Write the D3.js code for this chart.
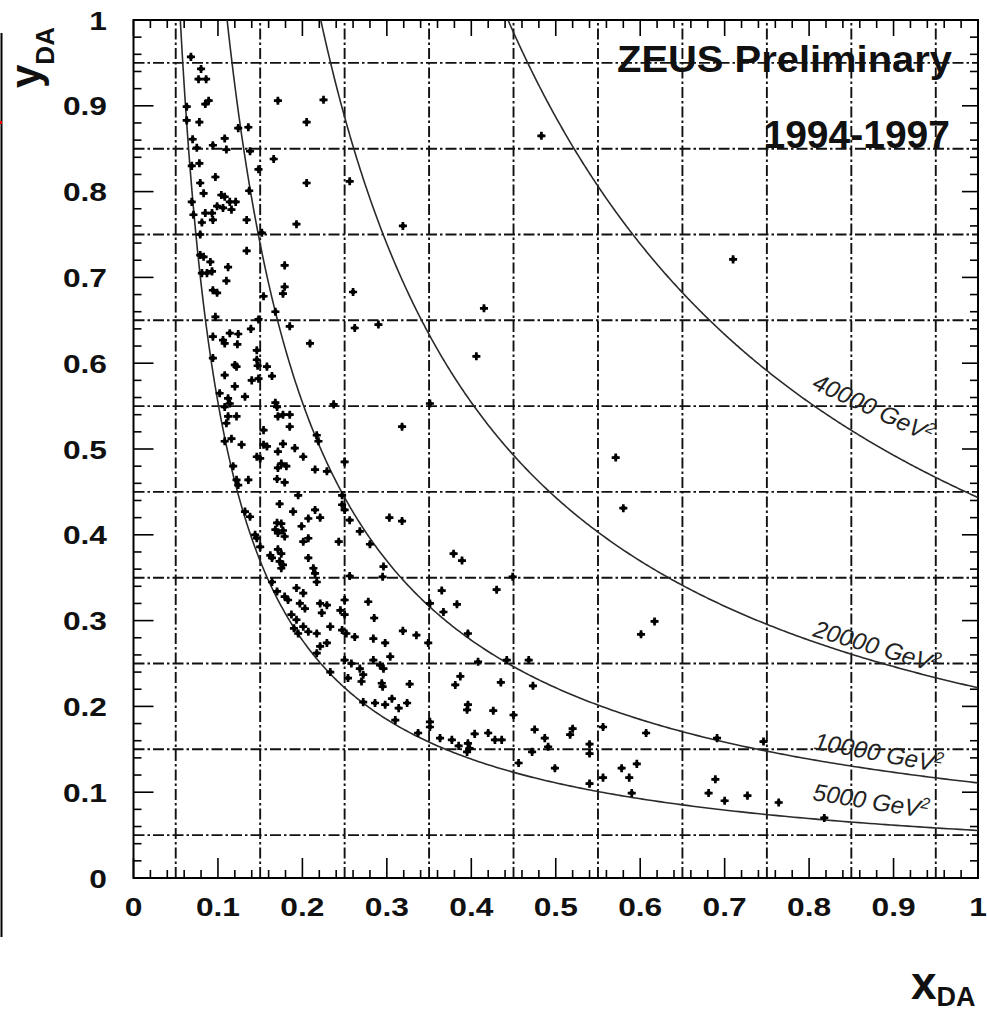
<!DOCTYPE html>
<html><head><meta charset="utf-8">
<script src="https://cdn.jsdelivr.net/npm/d3@7"></script>
<style>html,body{margin:0;padding:0;background:#fff;} svg{display:block;}</style>
</head><body>
<script>
// ---- data (x_DA, y_DA of events) ----
const xDA = [
0.068,0.080,0.077,0.086,0.089,0.085,0.171,0.225,0.063,0.063,
0.078,0.205,0.124,0.136,0.070,0.108,0.094,0.075,0.110,0.138,
0.166,0.069,0.078,0.148,0.097,0.079,0.205,0.256,0.083,0.104,
0.108,0.114,0.121,0.137,0.069,0.099,0.106,0.116,0.071,0.085,
0.093,0.094,0.081,0.134,0.193,0.079,0.152,0.483,0.319,0.134,
0.079,0.083,0.091,0.112,0.179,0.081,0.087,0.093,0.110,0.179,
0.177,0.094,0.099,0.260,0.154,0.168,0.097,0.148,0.185,0.262,
0.139,0.114,0.124,0.094,0.106,0.108,0.123,0.209,0.146,0.146,
0.147,0.094,0.120,0.122,0.158,0.108,0.164,0.140,0.148,0.120,
0.102,0.132,0.112,0.114,0.168,0.170,0.237,0.108,0.177,0.185,
0.112,0.122,0.171,0.110,0.185,0.154,0.217,0.116,0.415,0.290,
0.406,0.318,0.108,0.128,0.154,0.158,0.177,0.191,0.171,0.146,
0.150,0.201,0.219,0.250,0.118,0.175,0.181,0.171,0.215,0.229,
0.136,0.122,0.124,0.170,0.179,0.195,0.247,0.173,0.247,0.250,
0.189,0.215,0.132,0.207,0.221,0.138,0.256,0.170,0.175,0.199,
0.168,0.177,0.171,0.144,0.146,0.207,0.201,0.179,0.243,0.150,
0.171,0.175,0.162,0.164,0.207,0.173,0.177,0.175,0.213,0.215,
0.256,0.217,0.164,0.170,0.193,0.201,0.179,0.183,0.221,0.229,
0.197,0.203,0.250,0.245,0.223,0.187,0.193,0.201,0.207,0.217,
0.233,0.247,0.252,0.262,0.195,0.190,0.250,0.303,0.318,0.268,
0.280,0.379,0.389,0.296,0.295,0.430,0.365,0.278,0.351,0.383,
0.367,0.285,0.319,0.335,0.396,0.284,0.217,0.229,0.233,0.254,
0.250,0.258,0.221,0.298,0.349,0.284,0.292,0.296,0.304,0.268,
0.272,0.270,0.294,0.295,0.327,0.387,0.381,0.435,0.473,0.408,
0.442,0.468,0.272,0.286,0.306,0.324,0.298,0.314,0.396,
0.395,0.426,0.450,0.310,0.351,0.351,0.475,0.337,0.404,0.420,
0.363,0.377,0.385,0.396,0.398,0.395,0.428,0.436,0.487,0.472,
0.491,0.456,0.499,0.571,0.580,0.617,0.601,0.520,0.517,0.556,
0.607,0.540,0.540,0.691,0.746,0.578,0.596,0.587,0.556,0.540,
0.590,0.689,0.681,0.700,0.727,0.764,0.818,0.710,0.351,0.449
];
const yDA = [
0.957,0.943,0.931,0.931,0.906,0.902,0.906,0.907,0.899,0.883,
0.881,0.881,0.874,0.875,0.861,0.862,0.854,0.851,0.849,0.847,
0.838,0.830,0.833,0.826,0.817,0.810,0.810,0.812,0.798,0.796,
0.794,0.788,0.788,0.801,0.788,0.783,0.781,0.779,0.773,0.775,
0.775,0.767,0.764,0.767,0.762,0.750,0.752,0.865,0.760,0.731,
0.726,0.724,0.718,0.712,0.714,0.705,0.705,0.707,0.696,0.689,
0.681,0.685,0.682,0.683,0.678,0.660,0.654,0.651,0.643,0.641,
0.640,0.635,0.634,0.631,0.627,0.623,0.622,0.623,0.615,0.604,
0.597,0.606,0.598,0.596,0.596,0.586,0.585,0.580,0.582,0.573,
0.565,0.561,0.559,0.553,0.554,0.549,0.552,0.549,0.540,0.540,
0.538,0.538,0.538,0.530,0.526,0.522,0.516,0.512,0.664,0.645,
0.608,0.526,0.509,0.505,0.505,0.503,0.506,0.501,0.497,0.491,
0.489,0.491,0.509,0.485,0.480,0.483,0.480,0.478,0.476,0.474,
0.464,0.464,0.458,0.465,0.461,0.446,0.446,0.436,0.435,0.429,
0.427,0.429,0.427,0.419,0.420,0.421,0.417,0.414,0.413,0.410,
0.406,0.405,0.402,0.400,0.396,0.396,0.392,0.398,0.392,0.386,
0.383,0.378,0.376,0.373,0.373,0.369,0.365,0.361,0.361,0.355,
0.352,0.345,0.345,0.334,0.338,0.332,0.328,0.324,0.320,0.318,
0.320,0.314,0.324,0.312,0.309,0.307,0.301,0.293,0.287,0.285,
0.293,0.289,0.285,0.281,0.285,0.291,0.307,0.420,0.416,0.404,
0.389,0.378,0.370,0.363,0.351,0.336,0.335,0.322,0.320,0.319,
0.310,0.303,0.288,0.283,0.285,0.279,0.262,0.274,0.240,0.233,
0.254,0.250,0.270,0.274,0.274,0.254,0.248,0.244,0.258,0.244,
0.237,0.229,0.227,0.223,0.226,0.235,0.225,0.228,0.224,0.252,
0.254,0.254,0.205,0.204,0.209,0.204,0.202,0.198,0.202,
0.196,0.195,0.190,0.184,0.182,0.176,0.173,0.169,0.168,0.169,
0.163,0.161,0.154,0.157,0.151,0.147,0.161,0.161,0.163,0.147,
0.153,0.134,0.128,0.490,0.431,0.299,0.284,0.174,0.167,0.176,
0.169,0.156,0.145,0.163,0.159,0.128,0.133,0.117,0.117,0.110,
0.099,0.115,0.099,0.090,0.096,0.088,0.070,0.721,0.553,0.351
];
// lines of constant Q^2 (y = Q^2 / (s x)), HERA 27.5 GeV e x 820 GeV p
const q2Values = [5000, 10000, 20000, 40000];
const q2Labels = ["5000", "10000", "20000", "40000"];
const sCM = 4 * 27.5 * 820;
const tickValues = [0,0.1,0.2,0.3,0.4,0.5,0.6,0.7,0.8,0.9,1];
const tickLabels = ["0","0.1","0.2","0.3","0.4","0.5","0.6","0.7","0.8","0.9","1"];
const gridValues = [0.05,0.15,0.25,0.35,0.45,0.55,0.65,0.75,0.85,0.95];

// ---- layout ----
const W = 987, H = 1012;
const L = 133.5, R = 978, T = 20, B = 878;
const FONT = "'Liberation Sans', Arial, Helvetica, sans-serif";

const svg = d3.select("body").append("svg").attr("width", W).attr("height", H)
  .style("background", "#fff");

const x = d3.scaleLinear().domain([0, 1]).range([L, R]);
const y = d3.scaleLinear().domain([0, 1]).range([B, T]);

svg.append("defs").append("clipPath").attr("id", "plotclip")
  .append("rect").attr("x", L).attr("y", T).attr("width", R - L).attr("height", B - T);

// left edge artifact line
svg.append("line").attr("x1", 1.5).attr("x2", 1.5).attr("y1", 33).attr("y2", 937)
  .attr("stroke", "#000").attr("stroke-width", 2);
svg.append("rect").attr("x", 0).attr("y", 121).attr("width", 2).attr("height", 3).attr("fill", "#e00");

// grid (dash-dot)
const grid = svg.append("g").attr("stroke", "#111").attr("stroke-width", 1.9)
  .attr("stroke-dasharray", "11,3,2.5,3");
grid.selectAll("line.v").data(gridValues).join("line").attr("class", "v")
  .attr("x1", d => x(d)).attr("x2", d => x(d)).attr("y1", B).attr("y2", T);
grid.selectAll("line.h").data(gridValues).join("line").attr("class", "h")
  .attr("y1", d => y(d)).attr("y2", d => y(d)).attr("x1", L).attr("x2", R);

// axes with inward ticks
const minorVals = d3.range(0, 51).map(i => i / 50);
const isMajor = v => Math.abs(v * 10 - Math.round(v * 10)) < 1e-6;
const axG = svg.append("g").attr("stroke", "#000").attr("stroke-width", 1.6);
const tl = v => isMajor(v) ? 20 : 8;
const tlr = v => isMajor(v) ? 16 : 8;
axG.selectAll("line.tb").data(minorVals).join("line").attr("class", "tb")
  .attr("x1", d => x(d)).attr("x2", d => x(d)).attr("y1", B).attr("y2", d => B - tl(d));
axG.selectAll("line.tt").data(minorVals).join("line").attr("class", "tt")
  .attr("x1", d => x(d)).attr("x2", d => x(d)).attr("y1", T).attr("y2", d => T + tlr(d));
axG.selectAll("line.tl").data(minorVals).join("line").attr("class", "tl")
  .attr("y1", d => y(d)).attr("y2", d => y(d)).attr("x1", L).attr("x2", d => L + tl(d));
axG.selectAll("line.tr").data(minorVals).join("line").attr("class", "tr")
  .attr("y1", d => y(d)).attr("y2", d => y(d)).attr("x1", R).attr("x2", d => R - tlr(d));
svg.append("rect").attr("x", L).attr("y", T).attr("width", R - L).attr("height", B - T)
  .attr("fill", "none").attr("stroke", "#000").attr("stroke-width", 2);

// Q^2 curves
const curveG = svg.append("g").attr("clip-path", "url(#plotclip)");
const lineGen = d3.line().x(d => x(d[0])).y(d => y(d[1]));
q2Values.forEach(q => {
  const x0 = q / sCM;
  const pts = d3.range(0, 401).map(i => x0 * Math.pow(1 / x0, i / 400)).map(xv => [xv, q / (sCM * xv)]);
  curveG.append("path").attr("d", lineGen(pts)).attr("fill", "none")
    .attr("stroke", "#2a2a2a").attr("stroke-width", 1.6);
});

// curve labels
const labelPos = [
  {px: 812, py: 800, ang: 9},
  {px: 813, py: 749, ang: 10.5},
  {px: 812, py: 636, ang: 16.5},
  {px: 811, py: 388, ang: 25}
];
q2Labels.forEach((lab, i) => {
  const p = labelPos[i];
  const t = svg.append("text").attr("transform", `translate(${p.px},${p.py}) rotate(${p.ang})`)
    .attr("font-family", FONT).attr("font-style", "italic").attr("font-size", 24).attr("fill", "#222");
  t.append("tspan").text(lab + " GeV");
  t.append("tspan").attr("dy", -9).attr("font-size", 16).text("2");
});

// points: chunky cross-shaped blobs
const sym = d3.symbol().type(d3.symbolCross).size(36);
const ptG = svg.append("g").selectAll("g").data(xDA.map((v, i) => [v, yDA[i]])).join("g")
  .attr("transform", d => `translate(${x(d[0])},${y(d[1])})`);
ptG.append("path").attr("d", sym).attr("fill", "#000");
ptG.append("circle").attr("r", 2.4).attr("fill", "#000");

// tick labels
function label(px, py, txt, anchor) {
  svg.append("g").attr("transform", `translate(${px},${py}) scale(1.22,1)`)
    .append("text").attr("text-anchor", anchor).attr("font-family", FONT)
    .attr("font-weight", "bold").attr("font-size", 26).attr("fill", "#111").text(txt);
}
tickValues.forEach((v, i) => label(x(v), 916, tickLabels[i], "middle"));
tickValues.forEach((v, i) => label(107, y(v) + 9.5, tickLabels[i], "end"));

// titles
svg.append("text").attr("x", 952).attr("y", 72).attr("text-anchor", "end")
  .attr("font-family", FONT).attr("font-weight", "bold").attr("font-size", 37)
  .attr("textLength", 335).attr("lengthAdjust", "spacingAndGlyphs").attr("fill", "#111")
  .text("ZEUS Preliminary");
svg.append("text").attr("x", 950).attr("y", 148).attr("text-anchor", "end")
  .attr("font-family", FONT).attr("font-weight", "bold").attr("font-size", 39)
  .attr("fill", "#111").text("1994-1997");

// axis titles
const yt = svg.append("text").attr("transform", "translate(40,88) rotate(-90)")
  .attr("font-family", FONT).attr("font-weight", "bold").attr("fill", "#111");
yt.append("tspan").attr("font-size", 42).text("y");
yt.append("tspan").attr("font-size", 26).attr("dy", 14).text("DA");

const xt = svg.append("text").attr("x", 911).attr("y", 999)
  .attr("font-family", FONT).attr("font-weight", "bold").attr("fill", "#111");
xt.append("tspan").attr("font-size", 46).text("x");
xt.append("tspan").attr("font-size", 27).attr("dy", 7).text("DA");
</script>
</body></html>
